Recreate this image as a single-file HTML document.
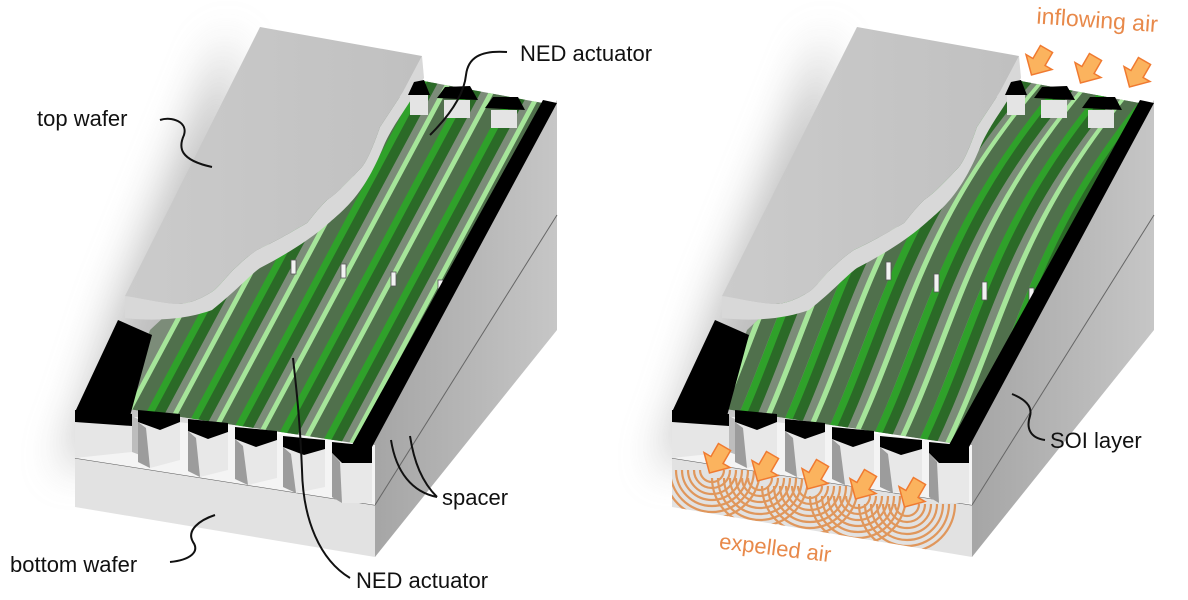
<!DOCTYPE html>
<html><head><meta charset="utf-8"><style>
html,body{margin:0;padding:0;background:#fff;}
svg{display:block;}
text{font-family:"Liberation Sans",sans-serif;}
</style></head><body>
<svg width="1188" height="600" viewBox="0 0 1188 600" xmlns="http://www.w3.org/2000/svg">
<defs>
  <filter id="blur" x="-50%" y="-50%" width="200%" height="200%"><feGaussianBlur stdDeviation="22"/></filter>
  <clipPath id="chan"><polygon points="122,408 360,444 548,104 418,80 150,330"/></clipPath>
  <clipPath id="bwR"><polygon points="672,458 972,505 972,557 672,507"/></clipPath>
  <linearGradient id="tw" x1="0" y1="0" x2="1" y2="0">
    <stop offset="0" stop-color="#cbcbcb"/><stop offset="1" stop-color="#c0c0c0"/>
  </linearGradient>
  <linearGradient id="side" x1="0" y1="0" x2="1" y2="0">
    <stop offset="0" stop-color="#a5a5a5"/><stop offset="1" stop-color="#c6c6c6"/>
  </linearGradient>

  <g id="base">
    <polygon points="230,30 120,300 80,420 60,470 250,400" fill="#8a8a8a" opacity="0.55" filter="url(#blur)"/>
    <polygon points="372,443 557,100 557,330 375,557" fill="url(#side)"/>
    <line x1="375" y1="505" x2="557" y2="215" stroke="#666" stroke-width="1"/>
    <polygon points="75,458 375,505 375,557 75,507" fill="#e2e2e2"/>
    <line x1="75" y1="458" x2="375" y2="505" stroke="#555" stroke-width="1"/>
    <polygon points="75,410 375,445 375,505 75,458" fill="#f4f4f4"/>
    <polygon points="122,408 360,444 548,104 418,80 150,330" fill="#7c8c79"/>
  </g>

  <g id="front">
    <polygon points="75,412 130,416 152,335 118,320" fill="#000"/>
    <polygon points="352,445 372,447 557,103 543,100" fill="#000"/>
    <polygon points="408,95 414,82 424,80 430,95" fill="#000"/>
    <rect x="410" y="95" width="18" height="20" fill="#e4e4e4"/>
    <polygon points="437,98 445,87 470,86 478,100" fill="#000"/>
    <rect x="444" y="100" width="26" height="18" fill="#e4e4e4"/>
    <polygon points="485,108 493,97 518,97 525,110" fill="#000"/>
    <rect x="491" y="110" width="26" height="18" fill="#e4e4e4"/>

    <polygon points="75,412 132,416 132,452 75,458" fill="#e6e6e6"/>
    <polygon points="75,410 132,414 132,426 75,422" fill="#000"/>
    <polygon points="132,416 140,420 140,455 132,452" fill="#bdbdbd"/>

    <polygon points="138,414 180,418 180,460 150,468 138,462" fill="#e8e8e8"/>
    <polygon points="138,410 180,414 180,422 160,430 138,422" fill="#000"/>
    <polygon points="138,422 146,428 150,468 138,462" fill="#9c9c9c"/>

    <polygon points="188,424 228,428 228,470 200,477 188,471" fill="#e8e8e8"/>
    <polygon points="188,419 228,423 228,432 208,439 188,431" fill="#000"/>
    <polygon points="188,431 196,438 200,477 188,471" fill="#9c9c9c"/>

    <polygon points="235,432 277,436 277,478 248,485 235,479" fill="#e8e8e8"/>
    <polygon points="235,427 277,431 277,440 256,447 235,439" fill="#000"/>
    <polygon points="235,439 243,446 248,485 235,479" fill="#9c9c9c"/>

    <polygon points="283,441 325,445 325,487 296,493 283,487" fill="#e8e8e8"/>
    <polygon points="283,436 325,440 325,449 304,455 283,447" fill="#000"/>
    <polygon points="283,447 291,454 296,493 283,487" fill="#9c9c9c"/>

    <polygon points="332,448 372,452 372,503 342,503 332,497" fill="#e8e8e8"/>
    <polygon points="332,442 372,446 372,463 342,463 332,453" fill="#000"/>
    <polygon points="332,453 340,462 342,503 332,497" fill="#9c9c9c"/>
  </g>

  <g id="topwafer">
    <path d="M125,296 L125,318 C160,322 190,318 212,310 C235,292 250,275 260,268 C285,255 310,240 330,222 C350,205 365,190 382,150 C392,125 405,112 424,78 L422,56 L403,92 L380,127 C372,150 365,165 360,169 C345,185 335,195 327,200 C315,212 310,220 307,223 C285,236 270,244 257,250 C245,258 240,264 233,270 C222,282 216,290 210,293 C195,302 185,304 177,304 C160,303 140,298 125,296 Z" fill="#d8d8d8"/>
    <path d="M260,27 L422,56 L403,92 L380,127 C372,150 365,165 360,169 C345,185 335,195 327,200 C315,212 310,220 307,223 C285,236 270,244 257,250 C245,258 240,264 233,270 C222,282 216,290 210,293 C195,302 185,304 177,304 C160,303 140,298 125,296 Z" fill="url(#tw)"/>
  </g>

  <g id="arr">
    <path d="M-7,-15 L7,-15 L7,0 L15,0 L0,15 L-15,0 L-7,0 Z" fill="#fbb35e" stroke="#f07a30" stroke-width="1.5"/>
  </g>
  <g id="wvA">
    <path d="M-12,0 A12,12 0 0 0 12,0"/><path d="M-18,0 A18,18 0 0 0 18,0"/>
    <path d="M-24,0 A24,24 0 0 0 24,0"/><path d="M-30,0 A30,30 0 0 0 30,0"/>
    <path d="M-36,0 A36,36 0 0 0 36,0"/><path d="M-42,0 A42,42 0 0 0 42,0"/>
    <path d="M-48,0 A48,48 0 0 0 48,0"/>
  </g>
</defs>

<!-- ========== LEFT DEVICE ========== -->
<use href="#base"/>
<g clip-path="url(#chan)">
  <g id="unitsL">
  <line x1="98" y1="470" x2="312" y2="70" stroke="#a6e59a" stroke-width="6"/>
  <line x1="108" y1="470" x2="322" y2="70" stroke="#50704c" stroke-width="14"/>
  <line x1="120" y1="470" x2="334" y2="70" stroke="#2fa12a" stroke-width="8"/>
  <line x1="129" y1="470" x2="343" y2="70" stroke="#2b6a27" stroke-width="10"/>
  </g>
  <use href="#unitsL" transform="translate(48,0)"/>
  <use href="#unitsL" transform="translate(96,0)"/>
  <use href="#unitsL" transform="translate(144,0)"/>
  <use href="#unitsL" transform="translate(192,0)"/>
  <use href="#unitsL" transform="translate(240,0)"/>
  <g fill="#f2f2f2" stroke="#555" stroke-width="0.8">
    <rect x="291" y="260" width="5" height="14"/><rect x="341" y="264" width="5" height="14"/>
    <rect x="391" y="272" width="5" height="14"/><rect x="438" y="280" width="5" height="14"/>
  </g>
</g>
<use href="#topwafer"/>
<use href="#front"/>

<g fill="#111" font-size="22">
  <text x="37" y="126">top wafer</text>
  <text x="520" y="61">NED actuator</text>
  <text x="442" y="505">spacer</text>
  <text x="10" y="572">bottom wafer</text>
  <text x="356" y="588">NED actuator</text>
</g>
<g fill="none" stroke="#111" stroke-width="2">
  <path d="M160,120 C172,116 188,122 184,135 C178,148 180,160 212,167"/>
  <path d="M507,52 C480,50 468,58 466,75 C464,95 450,115 430,135"/>
  <path d="M350,578 C320,560 303,520 302,470 C300,420 296,385 293,358"/>
  <path d="M437,497 C412,492 396,472 391,440"/>
  <path d="M437,497 C422,482 414,462 410,436"/>
  <path d="M170,562 C190,560 200,552 193,542 C186,530 200,520 215,515"/>
</g>

<!-- ========== RIGHT DEVICE ========== -->
<g transform="translate(597,0)">
  <use href="#base"/>
  <g clip-path="url(#chan)">
    <g id="unitsR" fill="none">
      <path d="M98,470 C170,330 170,230 312,70" stroke="#a6e59a" stroke-width="6"/>
      <path d="M108,470 C180,330 180,230 322,70" stroke="#50704c" stroke-width="14"/>
      <path d="M120,470 C192,330 192,230 334,70" stroke="#2fa12a" stroke-width="8"/>
      <path d="M129,470 C201,330 201,230 343,70" stroke="#2b6a27" stroke-width="10"/>
    </g>
    <use href="#unitsR" transform="translate(48,0)"/>
    <use href="#unitsR" transform="translate(96,0)"/>
    <use href="#unitsR" transform="translate(144,0)"/>
    <use href="#unitsR" transform="translate(192,0)"/>
    <use href="#unitsR" transform="translate(240,0)"/>
    <g fill="#f2f2f2" stroke="#555" stroke-width="0.8">
      <rect x="242" y="262" width="5" height="18"/><rect x="289" y="262" width="5" height="18"/>
      <rect x="337" y="274" width="5" height="18"/><rect x="385" y="282" width="5" height="18"/>
      <rect x="432" y="288" width="5" height="18"/>
    </g>
  </g>
  <use href="#topwafer"/>
  <use href="#front"/>
</g>

<g clip-path="url(#bwR)" fill="none" stroke="#e08a45" stroke-width="2.2" opacity="0.85">
  <use href="#wvA" transform="translate(712,470)"/>
  <use href="#wvA" transform="translate(760,478)"/>
  <use href="#wvA" transform="translate(810,486)"/>
  <use href="#wvA" transform="translate(858,496)"/>
  <use href="#wvA" transform="translate(907,504)"/>
</g>

<g>
  <use href="#arr" transform="translate(1039,62) rotate(30)"/>
  <use href="#arr" transform="translate(1088,70) rotate(30)"/>
  <use href="#arr" transform="translate(1137,74) rotate(30)"/>
  <use href="#arr" transform="translate(717,460) rotate(30)"/>
  <use href="#arr" transform="translate(765,468) rotate(30)"/>
  <use href="#arr" transform="translate(815,476) rotate(30)"/>
  <use href="#arr" transform="translate(863,486) rotate(30)"/>
  <use href="#arr" transform="translate(912,494) rotate(30)"/>
</g>

<text x="1036" y="28" font-size="23" fill="#e8894a" transform="rotate(4 1100 28)">inflowing air</text>
<text x="718" y="556" font-size="22" fill="#e8894a" transform="rotate(7 780 556)">expelled air</text>
<text x="1050" y="448" font-size="22" fill="#111">SOI layer</text>
<path d="M1045,440 C1030,438 1026,428 1030,416 C1033,405 1022,398 1012,394" fill="none" stroke="#111" stroke-width="2"/>
</svg>
</body></html>
